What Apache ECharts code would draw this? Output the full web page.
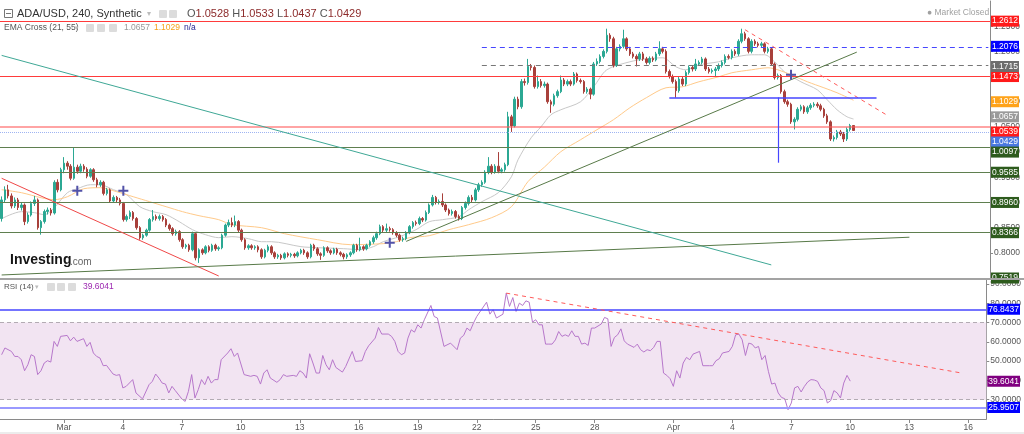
<!DOCTYPE html>
<html><head><meta charset="utf-8">
<script src="https://cdn.jsdelivr.net/npm/echarts@6/dist/echarts.min.js"></script>
<style>html,body{margin:0;padding:0;background:#fff}#c{width:1024px;height:434px}</style>
</head><body><div id="c"></div>
<script>
// ---------- DATA ----------
const START_MS = Date.UTC(2022, 1, 25, 20); // first 4h slot
const SLOT_COUNT = 301;
const marTickDays = [1,4,7,10,13,16,19,22,25,28];
const aprTickDays = [1,4,7,10,13,16];
const headerOHLC = [1.0528, 1.0533, 1.0437, 1.0429];
const ema21Value = 1.0657, ema55Value = 1.1029;
const rsiValue = 39.6041;

// [open, close, low, high] per 4h candle
const candles = [
[.868,.905,.862,.912],[.905,.925,.900,.932],[.925,.913,.908,.935],[.913,.893,.888,.918],[.893,.905,.889,.910],
[.905,.890,.885,.909],[.890,.895,.884,.900],[.895,.862,.855,.898],[.862,.875,.858,.880],[.875,.898,.872,.902],
[.898,.905,.893,.913],[.905,.850,.846,.908],[.850,.862,.836,.865],[.862,.882,.858,.886],[.882,.885,.876,.890],
[.885,.879,.874,.889],[.879,.940,.876,.944],[.940,.925,.920,.946],[.925,.965,.922,.969],[.965,.978,.958,.990],
[.978,.972,.965,.982],[.972,.948,.944,.976],[.948,.970,.945,1.008],[.970,.962,.957,.975],[.962,.972,.958,.977],
[.972,.966,.961,.976],[.966,.952,.948,.970],[.952,.965,.949,.968],[.965,.945,.941,.968],[.945,.935,.930,.949],
[.935,.940,.931,.944],[.940,.918,.914,.943],[.918,.925,.914,.929],[.925,.903,.899,.928],[.903,.910,.899,.914],
[.910,.905,.900,.913],[.905,.898,.894,.909],[.898,.866,.862,.901],[.866,.872,.862,.876],[.872,.880,.867,.884],
[.880,.868,.864,.883],[.868,.850,.846,.871],[.850,.830,.826,.853],[.830,.835,.826,.838],[.835,.845,.832,.848],
[.845,.866,.842,.869],[.866,.872,.862,.885],[.872,.868,.864,.876],[.868,.872,.864,.876],[.872,.866,.862,.875],
[.866,.855,.851,.869],[.855,.848,.844,.858],[.848,.838,.834,.851],[.838,.842,.834,.846],[.842,.826,.822,.845],
[.826,.812,.808,.829],[.812,.815,.808,.818],[.815,.806,.802,.818],[.806,.838,.803,.842],[.838,.790,.785,.840],
[.790,.806,.780,.809],[.806,.800,.796,.809],[.800,.812,.797,.815],[.812,.805,.801,.815],[.805,.815,.802,.818],
[.815,.808,.804,.818],[.808,.810,.804,.813],[.810,.835,.807,.838],[.835,.855,.832,.858],[.855,.860,.851,.866],
[.860,.855,.851,.870],[.855,.862,.851,.874],[.862,.845,.841,.865],[.845,.826,.822,.848],[.826,.810,.806,.829],
[.810,.814,.806,.817],[.814,.810,.806,.817],[.810,.812,.806,.815],[.812,.806,.801,.815],[.806,.792,.788,.809],
[.792,.805,.789,.808],[.805,.812,.801,.816],[.812,.800,.796,.815],[.800,.792,.788,.803],[.792,.795,.788,.798],
[.795,.790,.786,.798],[.790,.798,.787,.801],[.798,.795,.791,.801],[.795,.797,.791,.800],[.797,.794,.790,.800],
[.794,.800,.791,.803],[.800,.805,.797,.808],[.805,.800,.796,.808],[.800,.792,.788,.803],[.792,.815,.789,.818],
[.815,.808,.804,.818],[.808,.798,.794,.811],[.798,.795,.786,.801],[.795,.810,.792,.813],[.810,.804,.800,.813],
[.804,.800,.796,.807],[.800,.807,.797,.810],[.807,.800,.796,.810],[.800,.797,.793,.803],[.797,.792,.787,.800],
[.792,.796,.788,.799],[.796,.800,.792,.803],[.800,.815,.797,.818],[.815,.806,.802,.818],[.806,.812,.803,.830],
[.812,.808,.804,.815],[.808,.815,.805,.818],[.815,.822,.812,.825],[.822,.830,.818,.834],[.830,.838,.826,.842],
[.838,.852,.835,.856],[.852,.845,.841,.855],[.845,.848,.841,.858],[.848,.846,.842,.852],[.846,.840,.836,.849],
[.840,.835,.831,.843],[.835,.826,.822,.838],[.826,.828,.822,.832],[.828,.840,.825,.843],[.840,.852,.837,.855],
[.852,.860,.848,.863],[.860,.858,.854,.864],[.858,.868,.855,.872],[.868,.865,.861,.871],[.865,.880,.862,.884],
[.880,.895,.877,.898],[.895,.910,.892,.915],[.910,.900,.896,.913],[.900,.902,.896,.906],[.902,.895,.891,.918],
[.895,.885,.881,.898],[.885,.878,.874,.888],[.878,.882,.874,.886],[.882,.872,.868,.885],[.872,.868,.864,.876],
[.868,.890,.865,.893],[.890,.898,.886,.902],[.898,.910,.894,.914],[.910,.905,.900,.915],[.905,.925,.902,.929],
[.925,.935,.921,.939],[.935,.940,.931,.944],[.940,.960,.937,.964],[.960,.972,.956,.990],[.972,.960,.956,.976],
[.960,.972,.957,.976],[.972,.962,.958,1.000],[.962,.965,.958,.969],[.965,.975,.961,.979],[.975,1.070,.972,1.080],
[1.070,1.052,1.040,1.074],[1.052,1.105,1.049,1.110],[1.105,1.090,1.085,1.110],[1.090,1.140,1.086,1.145],[1.140,1.138,1.132,1.146],
[1.138,1.170,1.134,1.185],[1.170,1.168,1.162,1.175],[1.168,1.130,1.126,1.172],[1.130,1.140,1.126,1.152],[1.140,1.132,1.128,1.145],
[1.132,1.135,1.128,1.140],[1.135,1.100,1.096,1.138],[1.100,1.095,1.078,1.104],[1.095,1.112,1.091,1.116],[1.112,1.120,1.108,1.124],
[1.120,1.143,1.117,1.152],[1.143,1.135,1.131,1.147],[1.135,1.140,1.131,1.144],[1.140,1.135,1.131,1.144],[1.135,1.155,1.132,1.159],
[1.155,1.142,1.138,1.158],[1.142,1.140,1.136,1.146],[1.140,1.120,1.116,1.143],[1.120,1.125,1.116,1.129],[1.125,1.115,1.105,1.128],
[1.115,1.175,1.112,1.179],[1.175,1.180,1.171,1.186],[1.180,1.190,1.176,1.194],[1.190,1.200,1.186,1.204],[1.200,1.232,1.196,1.245],
[1.232,1.225,1.219,1.236],[1.225,1.172,1.168,1.229],[1.172,1.205,1.169,1.209],[1.205,1.210,1.200,1.214],[1.210,1.225,1.206,1.243],
[1.225,1.205,1.201,1.228],[1.205,1.195,1.191,1.209],[1.195,1.190,1.186,1.199],[1.190,1.185,1.170,1.194],[1.185,1.195,1.181,1.199],
[1.195,1.185,1.181,1.199],[1.185,1.178,1.174,1.189],[1.178,1.186,1.174,1.190],[1.186,1.183,1.179,1.190],[1.183,1.195,1.180,1.199],
[1.195,1.205,1.191,1.220],[1.205,1.200,1.196,1.209],[1.200,1.160,1.156,1.204],[1.160,1.150,1.146,1.164],[1.150,1.140,1.136,1.154],
[1.140,1.122,1.108,1.144],[1.122,1.145,1.118,1.149],[1.145,1.135,1.131,1.149],[1.135,1.158,1.131,1.162],[1.158,1.168,1.154,1.172],
[1.168,1.165,1.160,1.172],[1.165,1.175,1.161,1.185],[1.175,1.178,1.171,1.182],[1.178,1.185,1.174,1.189],[1.185,1.165,1.161,1.188],
[1.165,1.160,1.156,1.169],[1.160,1.162,1.156,1.166],[1.162,1.165,1.150,1.169],[1.165,1.172,1.161,1.176],[1.172,1.178,1.168,1.182],
[1.178,1.190,1.174,1.194],[1.190,1.188,1.184,1.194],[1.188,1.200,1.184,1.204],[1.200,1.195,1.191,1.204],[1.195,1.220,1.191,1.224],
[1.220,1.235,1.216,1.245],[1.235,1.225,1.221,1.239],[1.225,1.200,1.196,1.228],[1.200,1.220,1.196,1.224],[1.220,1.215,1.211,1.224],
[1.215,1.212,1.208,1.219],[1.212,1.215,1.208,1.219],[1.215,1.200,1.196,1.218],[1.200,1.205,1.196,1.209],[1.205,1.175,1.171,1.208],
[1.175,1.148,1.144,1.178],[1.148,1.152,1.144,1.156],[1.152,1.120,1.116,1.155],[1.120,1.100,1.096,1.124],[1.100,1.095,1.090,1.104],
[1.095,1.060,1.056,1.098],[1.060,1.065,1.045,1.069],[1.065,1.085,1.061,1.089],[1.085,1.090,1.081,1.094],[1.090,1.080,1.076,1.093],
[1.080,1.088,1.076,1.092],[1.088,1.093,1.084,1.097],[1.093,1.095,1.089,1.099],[1.095,1.092,1.088,1.099],[1.092,1.085,1.081,1.096],
[1.085,1.072,1.068,1.088],[1.072,1.060,1.056,1.076],[1.060,1.026,1.022,1.063],[1.026,1.029,1.021,1.033],[1.029,1.040,1.025,1.044],
[1.040,1.036,1.032,1.044],[1.036,1.026,1.020,1.040],[1.026,1.045,1.022,1.049],[1.045,1.0528,1.041,1.056],[1.0528,1.0429,1.0429,1.0533]
];

// EMA lines: [candle index, price]
const ema21 = [[0,.8678],[6,.8817],[10,.8797],[13,.8757],[16,.8896],[20,.9194],[23,.9273],[27,.9352],[30,.9352],[34,.9253],[38,.9154],[42,.8916],[46,.8817],[50,.8757],[54,.8618],[58,.8460],[62,.8360],[66,.8301],[70,.8321],[75,.8281],[79,.8221],[82,.8221],[91,.8122],[96,.8102],[104,.8082],[109,.8063],[113,.8122],[116,.8221],[121,.8321],[126,.8460],[130,.8618],[134,.8658],[139,.8717],[142,.8856],[146,.9015],[151,.9194],[155,.9511],[157,.9848],[161,1.0285],[164,1.0503],[167,1.0741],[170,1.0840],[176,1.0999],[180,1.1297],[184,1.1634],[191,1.1793],[196,1.1852],[201,1.1872],[205,1.1694],[208,1.1634],[212,1.1733],[218,1.1793],[222,1.1872],[228,1.1932],[232,1.1932],[235,1.1793],[238,1.1594],[243,1.1396],[248,1.1237],[251,1.1039],[254,1.0840],[257,1.0702],[259,1.0657]];
const ema55 = [[0,.9253],[6,.9194],[12,.9094],[16,.9055],[20,.9114],[25,.9273],[30,.9293],[35,.9213],[40,.9114],[45,.9015],[50,.8916],[55,.8817],[60,.8737],[66,.8658],[70,.8559],[79,.8499],[86,.8380],[96,.8261],[106,.8162],[116,.8182],[120,.8221],[124,.8301],[130,.8340],[136,.8460],[142,.8559],[149,.8698],[155,.8916],[160,.9412],[165,.970],[170,1.0007],[176,1.0245],[181,1.0444],[186,1.0642],[191,1.0880],[196,1.1079],[202,1.1277],[207,1.1297],[212,1.1396],[218,1.1495],[222,1.1575],[228,1.1634],[233,1.1674],[236,1.1634],[240,1.1535],[245,1.1396],[250,1.1277],[254,1.1178],[259,1.1029]];

// RSI(14): [candle index, value]
const rsi = [[0,53.3],[1,56.8],[3,55],[4,52.4],[5,52.4],[6,50.7],[7,45],[8,48.1],[9,53.3],[10,52.4],[11,43],[12,45],[13,49],[14,50.2],[15,49.5],[16,60.2],[17,57.6],[18,62.8],[20,63.3],[21,60.5],[22,62.4],[23,60.2],[25,61.6],[26,57.6],[27,59.7],[28,54.2],[29,52.4],[30,51.6],[31,47.6],[32,47.8],[34,43.3],[35,42.6],[36,43],[37,36.1],[38,36.9],[40,40.4],[41,33.5],[43,30.4],[45,37.8],[46,39.5],[47,43.3],[48,41.2],[49,38.6],[50,38.1],[51,33.5],[52,36.9],[53,34.7],[55,30.4],[56,29.1],[57,34.3],[58,43],[59,30.9],[60,35.2],[61,40.4],[62,37.8],[63,42.1],[64,38.6],[65,40.4],[66,40.4],[67,50.7],[69,54.2],[70,56.4],[71,52.4],[72,54.2],[74,43],[76,42.1],[77,42.6],[78,42.1],[79,38.1],[80,43.8],[81,45.5],[82,41.2],[84,39],[85,40.4],[86,43],[87,42.1],[89,42.6],[90,42.1],[91,45],[92,43.8],[93,41.2],[94,53.8],[95,49],[96,43.8],[97,43.8],[98,52.9],[99,48.1],[100,45.5],[101,50.7],[102,46.7],[104,44.3],[105,47.2],[107,55],[108,49.8],[110,50.2],[111,55],[112,57.9],[114,61.9],[115,67.4],[116,64],[118,64],[119,62.8],[120,60.2],[121,55],[122,53.3],[123,54.2],[124,61.9],[125,66.2],[126,65],[127,68.8],[128,67.1],[129,71.4],[131,78.8],[132,73.1],[133,72.3],[135,57.6],[137,59.3],[139,55.9],[140,61.9],[141,63.3],[142,67.1],[143,65.7],[144,69.7],[145,73.1],[148,80.5],[149,74.3],[150,76.6],[151,72.3],[153,74.3],[154,85.2],[155,78.3],[156,82.9],[157,75.7],[158,80],[159,78.8],[160,81.2],[161,80.5],[162,70.2],[163,71.4],[164,68.8],[165,68.8],[166,58.8],[167,58.8],[168,58.8],[169,61],[170,65.3],[171,62.8],[172,63.6],[173,62.8],[174,65.7],[175,62.8],[176,62.8],[177,58.8],[178,59.3],[179,58.1],[180,67.1],[181,67.1],[183,69.2],[184,72.6],[185,71.9],[186,57.6],[187,62.2],[188,63.6],[189,66.7],[190,60.5],[191,58.8],[193,57.1],[194,58.8],[195,55.9],[196,54.7],[197,55.9],[198,55.4],[199,57.1],[200,60.2],[201,60.2],[202,43.8],[203,42.6],[204,40.9],[205,36.9],[206,45],[207,41.2],[208,49],[209,51.9],[210,50.7],[211,53.6],[213,55],[214,47.6],[216,47.6],[217,47.6],[218,50.2],[219,51.2],[220,54.2],[222,55],[223,57.6],[224,63.6],[225,64],[226,61],[227,52.9],[228,59.3],[229,58.8],[230,56.8],[231,57.6],[232,50.7],[233,52.9],[234,44.7],[235,38.1],[236,38.6],[237,33.5],[238,31.2],[239,30.5],[240,24.8],[241,28.3],[242,36.1],[243,36.9],[244,34],[245,36.9],[246,39.2],[247,40.4],[248,40.2],[249,39.5],[250,36.1],[251,34.7],[252,28.3],[253,29.5],[254,34.7],[255,33.5],[256,30.9],[257,38.6],[258,42.6],[259,39.6041]];

// horizontal levels
const redLevels = [1.2612, 1.1473];
const greenLevels = [1.0097, 0.9585, 0.8960, 0.8366];
const bottomLevel = 0.7519;
const blueDashLevel = 1.2076, greyDashLevel = 1.1715;
const pinkLevel = 1.0539, lastPrice = 1.0429;
const rsiUpperLevel = 76.8437, rsiLowerLevel = 25.9507;
const rsiBand = [30, 70];

// drawn trend lines: [[index, price], [index, price]]
const redTrendUpper = [[96, 1.302], [235, 0.770]];
const redTrendLower = [[0, 0.948], [66, 0.754]];
const tealTrend = [[0, 1.192], [234, 0.776]];
const greenTrendLong = [[0, 0.756], [276, 0.831]];
const greenTrendRise = [[123, 0.8227], [260, 1.1985]];
const redDashTrend = [[226, 1.243], [269, 1.074]];
const blueHLine = [[203, 1.1085], [266, 1.1085]];
const blueVLine = [[236, 1.1085], [236, 0.9789]];
const dashLevelSpan = [146, 300];
const rsiDashTrend = [[154, 85.2], [293, 43.8]];
const crossMarks = [[23, 0.9233], [37, 0.9233], [118, 0.8202], [240, 1.1535]];

// ---------- BUILD ----------
const categories = [];
for (let k = 0; k < SLOT_COUNT; k++) categories.push(new Date(START_MS + k * 4 * 3600e3).toISOString().slice(0, 13));
function isTick(idx, v) {
  const m = +v.slice(5, 7), d = +v.slice(8, 10), h = +v.slice(11, 13);
  if (h !== 0) return false;
  return (m === 3 && marTickDays.includes(d)) || (m === 4 && aprTickDays.includes(d));
}
function fmtDate(v) {
  const m = +v.slice(5, 7), d = +v.slice(8, 10);
  if (d === 1) return m === 3 ? 'Mar' : 'Apr';
  return String(d);
}
const FONT = '"Liberation Sans", Arial, sans-serif';
const P_MIN = 0.75, P_MAX = 1.30, MAIN_TOP = 1, MAIN_H = 277;
const PX_P = MAIN_H / (P_MAX - P_MIN);
const R_MIN = 20, R_MAX = 92, RSI_TOP = 280, RSI_H = 139;
const PX_R = RSI_H / (R_MAX - R_MIN);
const CLEAR = {color: 'rgba(0,0,0,0)', width: 1};

function tag(value, bg, shiftPx, pxPer, lineStyle) {
  return {
    yAxis: value - shiftPx / pxPer,
    lineStyle: lineStyle || CLEAR,
    label: {show: true, position: 'end', distance: 1, formatter: value.toFixed(4),
      backgroundColor: bg, color: '#fff', fontSize: 8.5, fontFamily: FONT, padding: [1, 1, 1, 1], lineHeight: 9}
  };
}
function seg(pts, style) {
  return [{coord: pts[0], lineStyle: style}, {coord: pts[1]}];
}
const GREEN_LINE = {color: '#5f7f4f', width: 1, type: 'solid'};
const GREEN_BG = '#2d5b1d';
const BLUE = '#4646ff';

const mainLines = [
  tag(redLevels[0], '#ff1a1a', 0, PX_P, {color: '#ff3b3b', width: 1, type: 'solid'}),
  tag(redLevels[1], '#ff1a1a', 0, PX_P, {color: '#ff3b3b', width: 1, type: 'solid'}),
  seg([[dashLevelSpan[0], blueDashLevel], [dashLevelSpan[1], blueDashLevel]], {color: BLUE, width: 1, type: [5, 4]}),
  tag(blueDashLevel, '#0000ff', 0, PX_P),
  seg([[dashLevelSpan[0], greyDashLevel], [dashLevelSpan[1], greyDashLevel]], {color: '#777', width: 1, type: [5, 4]}),
  tag(greyDashLevel, '#6e6e6e', 0, PX_P),
  {yAxis: pinkLevel, lineStyle: {color: 'rgba(255,90,90,0.55)', width: 2, type: 'solid'}},
  tag(pinkLevel, '#ff1a1a', 6, PX_P),
  {yAxis: lastPrice, lineStyle: {color: '#9fb4f2', width: 1, type: 'dotted'}},
  tag(lastPrice, '#4a78e0', 11, PX_P),
  {yAxis: greenLevels[0], lineStyle: GREEN_LINE},
  tag(greenLevels[0], GREEN_BG, 6, PX_P),
  tag(greenLevels[1], GREEN_BG, 0, PX_P, GREEN_LINE),
  tag(greenLevels[2], GREEN_BG, 0, PX_P, GREEN_LINE),
  tag(greenLevels[3], GREEN_BG, 0, PX_P, GREEN_LINE),
  tag(bottomLevel, GREEN_BG, -1, PX_P),
  tag(ema55Value, '#ffa31a', 0, PX_P),
  tag(ema21Value, '#9a9a9a', 0, PX_P),
  seg(redTrendUpper, {color: '#f04848', width: 1, type: 'solid'}),
  seg(redTrendLower, {color: '#f04848', width: 1, type: 'solid'}),
  seg(tealTrend, {color: '#3fa896', width: 1, type: 'solid'}),
  seg(greenTrendLong, {color: '#587a48', width: 1, type: 'solid'}),
  seg(greenTrendRise, {color: '#587a48', width: 1, type: 'solid'}),
  seg(redDashTrend, {color: '#ff5a5a', width: 1, type: [4, 4]}),
  seg(blueHLine, {color: BLUE, width: 1.5, type: 'solid'}),
  seg(blueVLine, {color: BLUE, width: 1.2, type: 'solid'})
];
const rsiLines = [
  tag(rsiUpperLevel, '#0000ff', 0, PX_R, {color: BLUE, width: 1.5, type: 'solid'}),
  tag(rsiLowerLevel, '#0000ff', 0, PX_R, {color: '#9a9aff', width: 2, type: 'solid'}),
  {yAxis: rsiBand[1], lineStyle: {color: '#b3abb3', width: 1, type: [4, 3]}},
  {yAxis: rsiBand[0], lineStyle: {color: '#b3abb3', width: 1, type: [4, 3]}},
  tag(rsiValue, '#800080', 0, PX_R),
  seg(rsiDashTrend, {color: '#ff5a5a', width: 1, type: [4, 4]})
];

const axisLabelStyle = {color: '#555', fontSize: 8.5, fontFamily: FONT, margin: 4, formatter: v => v.toFixed(4), showMinLabel: false, showMaxLabel: false};
const chart = echarts.init(document.getElementById('c'), null, {renderer: 'canvas'});
const txt = (x, y, text, fill, size, extra) => Object.assign({type: 'text', x, y, z: 100, silent: true,
  style: Object.assign({text, fill, font: size + 'px ' + FONT, verticalAlign: 'middle', align: 'left'}, extra || {})});
const box = (x, y, w, h, fill) => ({type: 'rect', z: 100, silent: true, shape: {x, y, width: w, height: h, r: 1}, style: {fill}});

const option = {
  animation: false,
  backgroundColor: '#fff',
  grid: [
    {left: 0, right: 34, top: MAIN_TOP, height: MAIN_H},
    {left: 0, right: 34, top: RSI_TOP, height: RSI_H}
  ],
  xAxis: [
    {type: 'category', gridIndex: 0, data: categories, boundaryGap: true, show: false},
    {type: 'category', gridIndex: 1, data: categories, boundaryGap: true,
      axisLine: {lineStyle: {color: '#8a8a8a'}},
      axisTick: {show: true, alignWithLabel: true, interval: isTick, length: 4, lineStyle: {color: '#8a8a8a'}},
      axisLabel: {interval: isTick, formatter: fmtDate, color: '#555', fontSize: 8.5, fontFamily: FONT, margin: 4},
      splitLine: {show: false}}
  ],
  yAxis: [
    {type: 'value', gridIndex: 0, position: 'right', min: P_MIN, max: P_MAX, interval: 0.05,
      axisLine: {show: true, lineStyle: {color: '#8a8a8a'}}, axisTick: {show: true, length: 3, lineStyle: {color: '#8a8a8a'}},
      axisLabel: axisLabelStyle, splitLine: {show: false}},
    {type: 'value', gridIndex: 1, position: 'right', min: R_MIN, max: R_MAX, interval: 10,
      axisLine: {show: true, lineStyle: {color: '#8a8a8a'}}, axisTick: {show: true, length: 3, lineStyle: {color: '#8a8a8a'}},
      axisLabel: axisLabelStyle, splitLine: {show: false}}
  ],
  series: [
    {name: 'EMA21', type: 'line', xAxisIndex: 0, yAxisIndex: 0, data: ema21, smooth: 0.3, symbol: 'none',
      lineStyle: {color: '#c8c8c8', width: 1}, z: 2, silent: true},
    {name: 'EMA55', type: 'line', xAxisIndex: 0, yAxisIndex: 0, data: ema55, smooth: 0.3, symbol: 'none',
      lineStyle: {color: '#ffca8a', width: 1}, z: 2, silent: true},
    {name: 'ADA/USD', type: 'candlestick', xAxisIndex: 0, yAxisIndex: 0, data: candles, barWidth: 2, z: 3,
      itemStyle: {color: '#2ba893', color0: '#a8403b', borderColor: '#2ba893', borderColor0: '#a8403b', borderWidth: 1},
      markLine: {silent: true, symbol: ['none', 'none'], animation: false, label: {show: false}, data: mainLines},
      markPoint: {silent: true, animation: false, symbol: 'path://M4,0H6V4H10V6H6V10H4V6H0V4H4Z', symbolSize: 10,
        itemStyle: {color: '#5252a8'}, label: {show: false}, data: crossMarks.map(c => ({coord: c}))}},
    {name: 'RSI', type: 'line', xAxisIndex: 1, yAxisIndex: 1, data: rsi, symbol: 'none', silent: true,
      lineStyle: {color: '#b777cb', width: 1}, z: 3,
      markArea: {silent: true, itemStyle: {color: '#f2e4f2'}, data: [[{yAxis: rsiBand[0]}, {yAxis: rsiBand[1]}]]},
      markLine: {silent: true, symbol: ['none', 'none'], animation: false, label: {show: false}, data: rsiLines}}
  ],
  graphic: [
    {type: 'rect', z: 100, silent: true, shape: {x: 0, y: 278, width: 1024, height: 2}, style: {fill: '#a3a3a3'}},
    {type: 'rect', z: 100, silent: true, shape: {x: 0, y: 432, width: 1024, height: 2}, style: {fill: '#ececec'}},
    {type: 'rect', z: 100, silent: true, shape: {x: 4.5, y: 9.5, width: 8, height: 8}, style: {fill: '#fff', stroke: '#777', lineWidth: 1}},
    {type: 'line', z: 101, silent: true, shape: {x1: 6, y1: 13.5, x2: 11, y2: 13.5}, style: {stroke: '#777', lineWidth: 1}},
    txt(17, 14, 'ADA/USD, 240, Synthetic', '#333', 11),
    txt(147, 14, '▾', '#bbb', 8),
    box(159, 10, 8, 8, '#dcdcdc'), box(169, 10, 8, 8, '#dcdcdc'),
    txt(187, 14, `{l|O}{v|${headerOHLC[0].toFixed(4)}} {l|H}{v|${headerOHLC[1].toFixed(4)}} {l|L}{v|${headerOHLC[2].toFixed(4)}} {l|C}{v|${headerOHLC[3].toFixed(4)}}`, '#555', 11,
      {rich: {l: {fill: '#555', font: '11px ' + FONT}, v: {fill: '#8c2a2a', font: '11px ' + FONT}}}),
    txt(4, 28, 'EMA Cross (21, 55)', '#555', 8.5),
    txt(75, 28, '▾', '#bbb', 7),
    box(86, 24, 8, 8, '#dcdcdc'), box(97, 24, 8, 8, '#dcdcdc'), box(109, 24, 8, 8, '#dcdcdc'),
    txt(124, 28, ema21Value.toFixed(4), '#999', 8.5),
    txt(154, 28, ema55Value.toFixed(4), '#f5a21a', 8.5),
    txt(184, 28, 'n/a', '#1f1f8f', 8.5),
    txt(927, 13, '● Market Closed', '#a0a0a0', 8.5),
    txt(10, 260, 'Investing', '#161616', 14, {font: 'bold 14px ' + FONT}),
    txt(70, 262, '.com', '#666', 10),
    txt(4, 287, 'RSI (14)', '#555', 8),
    txt(35, 287, '▾', '#bbb', 7),
    box(47, 283, 8, 8, '#dcdcdc'), box(57, 283, 8, 8, '#dcdcdc'), box(68, 283, 8, 8, '#dcdcdc'),
    txt(83, 287, rsiValue.toFixed(4), '#9c27b0', 8.5)
  ]
};
chart.setOption(option);
</script>
</body></html>
